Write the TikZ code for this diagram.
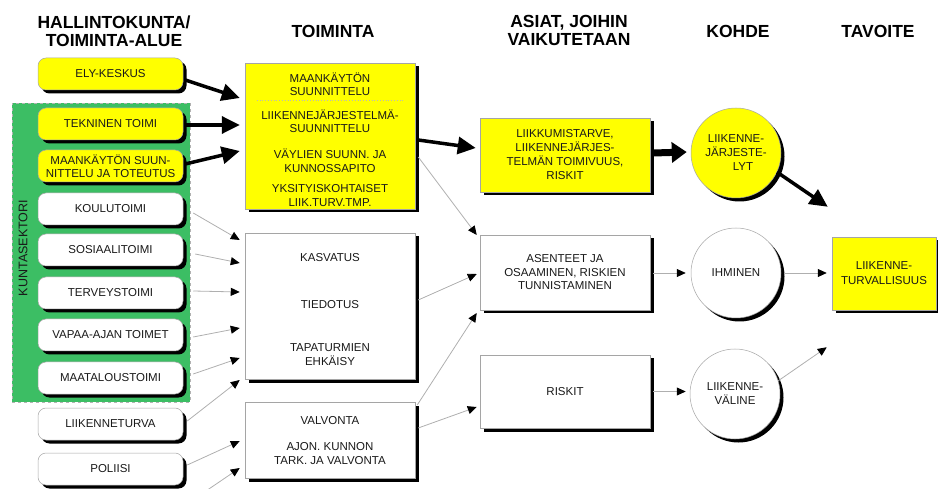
\documentclass[tikz,border=0pt]{standalone}
\usepackage{fontspec}
\setmainfont{Liberation Sans}
\usetikzlibrary{arrows.meta,shadows,calc}
\definecolor{ygel}{RGB}{255,255,0}
\definecolor{kgreen}{RGB}{60,190,100}
\definecolor{bordergray}{RGB}{165,165,165}
\definecolor{linegray}{RGB}{175,175,175}
\definecolor{txt}{RGB}{25,25,25}
\begin{document}
\begin{tikzpicture}[x=1pt,y=-1pt,
  font=\fontsize{11.5}{13.5}\selectfont, text=txt,
  shad/.style={drop shadow={shadow xshift=3.5pt,shadow yshift=-3.5pt,opacity=1,fill=black}},
  unit/.style={shad, draw=bordergray, line width=0.5pt, rounded corners=8pt, minimum width=145pt, minimum height=32pt, inner sep=1pt, align=center, fill=white},
  yunit/.style={unit, fill=ygel},
  sqbox/.style={shad, draw=bordergray, line width=0.5pt, minimum width=170pt, fill=white, inner sep=0pt, align=center},
  circ/.style={shad, circle, draw=bordergray, line width=0.5pt, minimum size=90pt, inner sep=0pt, align=center, fill=white, font=\fontsize{11.5}{14}\selectfont},
  lbl/.style={align=center, inner sep=0pt},
  head/.style={align=center, inner sep=0pt, text=black, font=\bfseries\fontsize{17.5}{18}\selectfont},
  thinarr/.style={draw=linegray, line width=0.8pt, -{Triangle[length=9pt,width=8pt,color=black,fill=black]}},
  thickarr/.style={draw=black, line width=3.5pt, -{Triangle[length=18pt,width=17pt]}},
  fatarr/.style={draw=black, line width=7pt, -{Triangle[length=15pt,width=20pt]}}
]
\useasboundingbox (0,0) rectangle (938,489);

% headers
\node[head] (h1) at (114,31) {HALLINTOKUNTA/\\TOIMINTA-ALUE};
\node[head] (h2) at (333,31) {TOIMINTA};
\node[head] (h3) at (569,30) {ASIAT, JOIHIN\\VAIKUTETAAN};
\node[head] (h4) at (738,31) {KOHDE};
\node[head] (h5) at (878,31) {TAVOITE};

% municipal sector background
\node[fill=kgreen, draw=gray!60, dashed, line width=0.5pt, minimum width=178pt, minimum height=299pt, inner sep=0pt] (kunta) at (101,252.5) {};
\node[rotate=90, inner sep=0pt, font=\fontsize{12.5}{14}\selectfont] (ktxt) at (23,248) {KUNTASEKTORI};

% left column
\node[yunit] (ely) at (110.5,74) {ELY-KESKUS};
\node[yunit] (tek) at (110.5,124) {TEKNINEN TOIMI};
\node[yunit, font=\fontsize{11.5}{12.5}\selectfont] (maan) at (110.5,166) {MAANKÄYTÖN SUUN-\\NITTELU JA TOTEUTUS};
\node[unit] (koulu) at (110.5,209) {KOULUTOIMI};
\node[unit] (sos) at (110.5,250) {SOSIAALITOIMI};
\node[unit] (terv) at (110.5,293) {TERVEYSTOIMI};
\node[unit] (vapaa) at (110.5,335) {VAPAA-AJAN TOIMET};
\node[unit] (maat) at (110.5,378) {MAATALOUSTOIMI};
\node[unit] (liik) at (110.5,424) {LIIKENNETURVA};
\node[unit] (pol) at (110.5,469) {POLIISI};
\coordinate (offb) at (203,493);

% TOIMINTA column
\node[sqbox, fill=ygel, minimum height=146pt] (toim1) at (330,136) {};
\node[lbl] (t1a) at (330,84) {MAANKÄYTÖN\\SUUNNITTELU};
\draw[gray!55, dotted, line width=0.8pt] ($(toim1.west)+(12,-36)$) -- ($(toim1.east)+(-12,-36)$);
\node[lbl] (t1b) at (330,121) {LIIKENNEJÄRJESTELMÄ-\\SUUNNITTELU};
\node[lbl] (t1c) at (330,160.5) {VÄYLIEN SUUNN. JA\\KUNNOSSAPITO};
\node[lbl] (t1d) at (330,195.5) {YKSITYISKOHTAISET\\LIIK.TURV.TMP.};

\node[sqbox, minimum height=146pt] (toim2) at (330,306) {};
\node[lbl] (t2a) at (330,258) {KASVATUS};
\node[lbl] (t2b) at (330,305) {TIEDOTUS};
\node[lbl] (t2c) at (330,354.5) {TAPATURMIEN\\EHKÄISY};

\node[sqbox, minimum height=76pt] (toim3) at (330,440) {};
\node[lbl] (t3a) at (330,421) {VALVONTA};
\node[lbl] (t3b) at (330,453.5) {AJON. KUNNON\\TARK. JA VALVONTA};

% ASIAT column
\node[sqbox, fill=ygel, minimum height=74pt, font=\fontsize{11.5}{14}\selectfont] (as1) at (565,155) {LIIKKUMISTARVE,\\LIIKENNEJÄRJES-\\TELMÄN TOIMIVUUS,\\RISKIT};
\node[sqbox, minimum height=75pt] (as2) at (565,272.5) {ASENTEET JA\\OSAAMINEN, RISKIEN\\TUNNISTAMINEN};
\node[sqbox, minimum height=73pt] (as3) at (565,391.5) {RISKIT};

% KOHDE column
\node[circ, fill=ygel] (c1) at (736,153) {LIIKENNE-\\JÄRJESTE-\\\hspace*{14pt}LYT};
\node[circ] (c2) at (736,273) {IHMINEN};
\node[circ] (c3) at (735,394) {LIIKENNE-\\VÄLINE};

% TAVOITE
\node[sqbox, fill=ygel, minimum width=104pt, minimum height=73pt, font=\fontsize{11.5}{15}\selectfont] (tav) at (884,273.5) {LIIKENNE-\\TURVALLISUUS};

% thick arrows
\draw[thickarr] ($(ely.east)+(2,6)$) -- ($(toim1.west)+(-5,-38)$);
\draw[thickarr] ($(tek.east)+(2,1)$) -- ($(toim1.west)+(-5,-11)$);
\draw[thickarr] ($(maan.east)+(2,-2)$) -- ($(toim1.west)+(-5,15)$);
\draw[thickarr] ($(toim1.east)+(3,4)$) -- ($(as1.west)+(-4,-7)$);
\draw[fatarr] ($(as1.east)+(3,-2)$) -- ($(c1.west)+(-4,-1)$);
\draw[thickarr] (c1.-25) -- ($(tav.north west)+(-4,-30)$);

% thin arrows into TOIMINTA
\draw[thinarr] ($(koulu.east)+(10,4)$) -- ($(toim2.west)+(-5,-66)$);
\draw[thinarr] ($(sos.east)+(12,4)$) -- ($(toim2.west)+(-5,-43)$);
\draw[thinarr] ($(terv.east)+(10,-2)$) -- ($(toim2.west)+(-5,-14)$);
\draw[thinarr] ($(vapaa.east)+(10,2)$) -- ($(toim2.west)+(-5,22)$);
\draw[thinarr] ($(maat.east)+(10,-4)$) -- ($(toim2.west)+(-5,52)$);
\draw[thinarr] ($(liik.east)+(4,-3)$) -- ($(toim2.west)+(-5,74)$);
\draw[thinarr] ($(pol.east)+(4,-4)$) -- ($(toim3.west)+(-5,1)$);
\draw[thinarr] (offb) -- ($(toim3.west)+(-5,28)$);

% thin arrows into ASIAT
\draw[thinarr] ($(toim1.east)+(3,21)$) -- ($(as2.west)+(-3,-37.5)$);
\draw[thinarr] ($(toim2.east)+(3,-6)$) -- ($(as2.west)+(-3,1.5)$);
\draw[thinarr] ($(toim3.east)+(2,-35)$) -- ($(as2.west)+(-3,40.5)$);
\draw[thinarr] ($(toim3.east)+(3,-12)$) -- ($(as3.west)+(-3,15.5)$);

% thin arrows to KOHDE and TAVOITE
\draw[thinarr] ($(as2.east)+(3,0.5)$) -- ($(c2.west)+(-5,0)$);
\draw[thinarr] ($(as3.east)+(3,0)$) -- ($(c3.west)+(-4,-2.5)$);
\draw[thinarr] ($(c2.east)+(3,0)$) -- ($(tav.west)+(-5,-0.5)$);
\draw[thinarr] (c3.17) -- ($(tav.south west)+(-5,37)$);
\end{tikzpicture}
\end{document}
